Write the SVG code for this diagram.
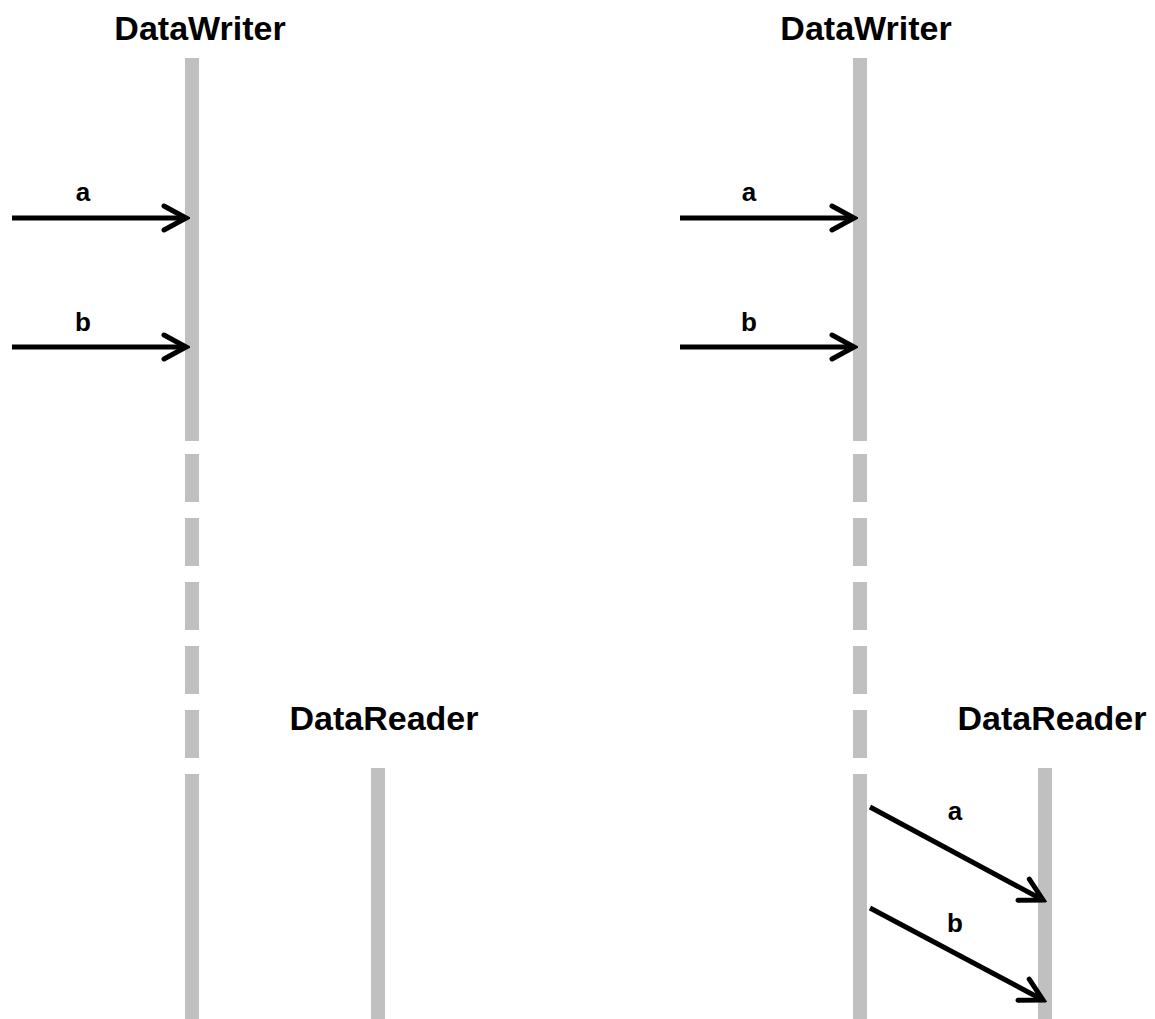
<svg xmlns="http://www.w3.org/2000/svg" width="1155" height="1019" viewBox="0 0 1155 1019">
<style>
.bar{fill:#c0c0c0}
.title{font-family:"Liberation Sans",Arial,sans-serif;font-weight:bold;font-size:34px;fill:#000;text-anchor:middle}
.lbl{font-family:"Liberation Sans",Arial,sans-serif;font-weight:bold;font-size:26px;fill:#000;text-anchor:middle}
.arr{stroke:#000;stroke-width:5;fill:none;marker-end:url(#ah)}
</style>
<defs>
<marker id="ah" markerUnits="userSpaceOnUse" viewBox="-30 -16 34 32" refX="0" refY="0" markerWidth="34" markerHeight="32" orient="auto">
<path d="M-22 -12 L0 0 L-22 12" fill="none" stroke="#000" stroke-width="5" stroke-linecap="round" stroke-linejoin="miter"/>
</marker>
</defs>
<rect width="1155" height="1019" fill="#fff"/>
<g id="writer-left">
<text class="title" x="200" y="40">DataWriter</text>
<rect class="bar" x="185" y="58" width="14" height="383"/>
<rect class="bar" x="185" y="454" width="14" height="48"/>
<rect class="bar" x="185" y="518" width="14" height="48"/>
<rect class="bar" x="185" y="582" width="14" height="48"/>
<rect class="bar" x="185" y="646" width="14" height="48"/>
<rect class="bar" x="185" y="710" width="14" height="48"/>
<rect class="bar" x="185" y="774" width="14" height="245"/>
</g>
<g id="reader-left">
<text class="title" x="384" y="730">DataReader</text>
<rect class="bar" x="371" y="768" width="14" height="251"/>
</g>
<g id="writer-right">
<text class="title" x="866" y="40">DataWriter</text>
<rect class="bar" x="853" y="58" width="14" height="383"/>
<rect class="bar" x="853" y="454" width="14" height="48"/>
<rect class="bar" x="853" y="518" width="14" height="48"/>
<rect class="bar" x="853" y="582" width="14" height="48"/>
<rect class="bar" x="853" y="646" width="14" height="48"/>
<rect class="bar" x="853" y="710" width="14" height="48"/>
<rect class="bar" x="853" y="774" width="14" height="245"/>
</g>
<g id="reader-right">
<text class="title" x="1052" y="730">DataReader</text>
<rect class="bar" x="1038" y="768" width="14" height="251"/>
</g>
<g id="connectors">
<line class="arr" x1="12" y1="218" x2="186" y2="218"/>
<text class="lbl" x="83" y="201">a</text>
<line class="arr" x1="12" y1="347" x2="186" y2="347"/>
<text class="lbl" x="83" y="331">b</text>
<line class="arr" x1="680" y1="218" x2="854" y2="218"/>
<text class="lbl" x="749" y="201">a</text>
<line class="arr" x1="680" y1="347" x2="854" y2="347"/>
<text class="lbl" x="749" y="331">b</text>
<line class="arr" x1="870" y1="807" x2="1043" y2="900"/>
<text class="lbl" x="955" y="820">a</text>
<line class="arr" x1="870" y1="908" x2="1043" y2="1000"/>
<text class="lbl" x="955" y="932">b</text>
</g>
</svg>
